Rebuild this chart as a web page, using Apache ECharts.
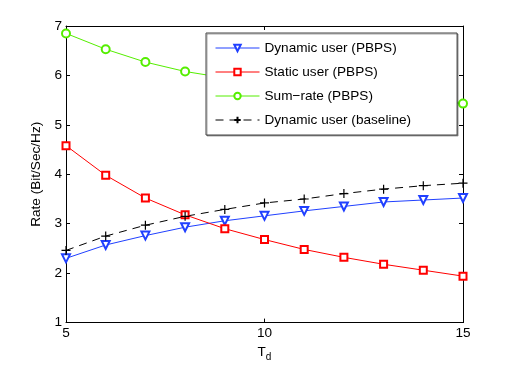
<!DOCTYPE html>
<html>
<head>
<meta charset="utf-8">
<script src="https://cdn.jsdelivr.net/npm/echarts@6/dist/echarts.min.js"></script>
<style>
  html, body { margin: 0; padding: 0; background: #fff; }
  #chart { width: 512px; height: 367px; }
</style>
</head>
<body>
<div id="chart"></div>
<script>
// T_d values on the x axis
var tdValues = [5, 6, 7, 8, 9, 10, 11, 12, 13, 14, 15];

// rates
var dynamicPBPS = [2.30, 2.57, 2.76, 2.93, 3.06, 3.16, 3.26, 3.35, 3.44, 3.48, 3.52];
var staticPBPS = [4.58, 3.98, 3.52, 3.18, 2.90, 2.68, 2.48, 2.32, 2.18, 2.06, 1.94];
var sumRatePBPS = [6.85, 6.53, 6.27, 6.08, 5.95, 5.83, 5.73, 5.66, 5.60, 5.52, 5.43];
var dynamicBaseline = [2.46, 2.75, 2.97, 3.15, 3.29, 3.42, 3.50, 3.61, 3.70, 3.77, 3.82];

var legendNames = ['Dynamic user (PBPS)', 'Static user (PBPS)', 'Sum\u2212rate (PBPS)', 'Dynamic user (baseline)'];

var fontName = 'Liberation Sans';
var fontSize = 13.6;

function pairs(ys) {
    return tdValues.map(function (x, i) { return [x, ys[i]]; });
}

var chart = echarts.init(document.getElementById('chart'));

// axis used on all four sides, ticks pointing in like matlab
function makeAxis(extra) {
    return Object.assign({
        type: 'value',
        axisLine: { show: true, onZero: false, lineStyle: { color: '#000', width: 1 } },
        axisTick: { show: true, inside: true, length: 4, lineStyle: { color: '#000' } },
        splitLine: { show: false },
        axisLabel: { color: '#000', fontFamily: fontName, fontSize: fontSize }
    }, extra);
}

var option = {
    animation: false,
    backgroundColor: '#fff',
    grid: { left: 66, right: 49, top: 26, bottom: 42 },
    xAxis: [
        makeAxis({
            min: 5, max: 15, interval: 5,
            axisLabel: { color: '#000', fontFamily: fontName, fontSize: fontSize, margin: 4 },
            name: 'T{sub|d}',
            nameLocation: 'middle',
            nameGap: 17,
            nameTextStyle: {
                color: '#000', fontFamily: fontName, fontSize: fontSize,
                rich: { sub: { fontSize: 10, verticalAlign: 'bottom', padding: [9, 0, 0, 0], fontFamily: fontName } }
            }
        }),
        makeAxis({ min: 5, max: 15, interval: 5, position: 'top', axisLabel: { show: false } })
    ],
    yAxis: [
        makeAxis({
            min: 1, max: 7, interval: 1,
            axisLabel: { color: '#000', fontFamily: fontName, fontSize: fontSize, margin: 4 },
            name: 'Rate (Bit/Sec/Hz)',
            nameLocation: 'middle',
            nameGap: 19,
            nameTextStyle: { color: '#000', fontFamily: fontName, fontSize: fontSize }
        }),
        makeAxis({ min: 1, max: 7, interval: 1, position: 'right', axisLabel: { show: false } })
    ],
    legend: {
        orient: 'vertical',
        left: 206,
        top: 33,
        data: legendNames,
        itemWidth: 44,
        itemHeight: 8,
        itemGap: 8,
        padding: [7, 46, 7, 9],
        backgroundColor: '#fff',
        borderColor: '#444',
        borderWidth: 1,
        shadowColor: 'rgba(0,0,0,0.35)',
        shadowOffsetX: 1,
        shadowOffsetY: 1,
        lineStyle: { width: 1 },
        textStyle: { color: '#000', fontFamily: fontName, fontSize: fontSize, lineHeight: 16 },
        z: 10
    },
    series: [
        {
            name: legendNames[0],
            type: 'line',
            data: pairs(dynamicPBPS),
            symbol: 'emptyTriangle',
            symbolRotate: 180,
            symbolSize: 8,
            lineStyle: { color: '#2040ff', width: 1 },
            itemStyle: { color: '#2040ff', borderColor: '#2040ff', borderWidth: 1 }
        },
        {
            name: legendNames[1],
            type: 'line',
            data: pairs(staticPBPS),
            symbol: 'emptyRect',
            symbolSize: 7,
            lineStyle: { color: '#ff0000', width: 1 },
            itemStyle: { color: '#ff0000', borderColor: '#ff0000', borderWidth: 1 }
        },
        {
            name: legendNames[2],
            type: 'line',
            data: pairs(sumRatePBPS),
            symbol: 'emptyCircle',
            symbolSize: 8,
            lineStyle: { color: '#55ee00', width: 1 },
            itemStyle: { color: '#55ee00', borderColor: '#55ee00', borderWidth: 1 }
        },
        {
            name: legendNames[3],
            type: 'line',
            data: pairs(dynamicBaseline),
            symbol: 'path://M0,5L10,5M5,0L5,10',
            symbolSize: 9,
            lineStyle: { color: '#000', width: 1, type: [8, 6] },
            itemStyle: { color: 'none', borderColor: '#000', borderWidth: 1.2 }
        }
    ]
};

chart.setOption(option);
</script>
</body>
</html>
